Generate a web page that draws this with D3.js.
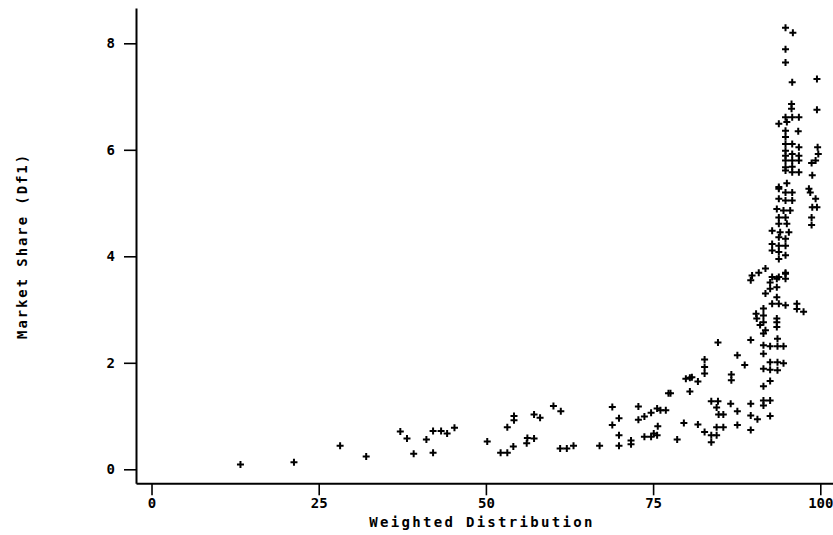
<!DOCTYPE html>
<html>
<head>
<meta charset="utf-8">
<script src="https://cdn.jsdelivr.net/npm/d3@7"></script>
<style>
  html, body { margin: 0; padding: 0; background: #fff; }
  svg { display: block; }
  text { font-family: "DejaVu Sans Mono", "Liberation Mono", monospace; fill: #000; }
</style>
</head>
<body>
<svg id="chart" width="833" height="535"></svg>
<script>
// ---- data ----
const weightedDistribution = [
  13.3, 21.3, 28.2, 32.1, 37.2, 38.2, 39.2, 41.1, 42.1, 42.1, 43.3, 44.2, 45.3,
  50.2, 52.2, 53.2, 53.2, 54.1, 54.2, 54.2, 56.1, 56.2, 57.2, 57.2, 58.1,
  60.1, 61.2, 61.1, 62.1, 63.1, 67.0, 68.9, 68.9, 69.9, 69.9, 69.9, 71.7, 71.7,
  72.8, 72.8, 73.7, 73.7, 74.7, 74.7, 75.6, 75.6, 75.7, 76.1, 76.9, 75.1,
  77.3, 77.6, 78.6, 79.6, 79.9, 80.5, 80.5, 84.7, 89.6, 82.7, 82.7, 82.7,
  80.8, 81.7, 87.6, 88.7, 86.7, 86.7, 91.5, 92.5, 93.6, 94.5, 93.6, 91.5,
  91.5, 92.5, 92.5, 93.6, 93.6, 94.5, 92.5, 91.5, 91.5, 91.5, 83.7, 84.7,
  84.5, 84.8, 85.5, 86.6, 87.6, 89.6, 89.6, 90.6, 91.5, 92.5, 91.5, 92.5,
  81.7, 82.7, 83.7, 83.7, 84.5, 85.5, 87.6, 89.6, 84.5,
  94.8, 95.9, 94.8, 94.8, 95.8, 99.5, 99.5, 95.7, 95.7, 94.8, 95.8, 96.8,
  93.8, 95.0, 94.8, 96.7, 94.8, 94.8, 95.8, 96.8, 94.8, 95.8, 96.8, 94.8,
  94.8, 95.8, 96.8, 94.8, 95.8, 96.8, 94.8, 95.8, 93.8, 95.0, 99.6, 99.7,
  99.3, 98.7, 98.8, 98.3, 93.8, 94.8, 95.8, 93.8, 94.8, 95.8, 98.5, 99.3,
  98.8, 99.5, 98.7, 98.7, 93.5, 94.5, 95.5, 93.8, 94.8, 93.8, 95.0, 92.8,
  94.0, 95.3, 93.8, 94.8, 92.8, 93.8, 94.8, 92.8, 93.8, 94.8, 93.8, 89.8,
  90.8, 91.8, 92.8, 93.8, 94.8, 89.6, 92.5, 93.5, 94.8, 94.8, 92.5, 93.5,
  91.8, 93.5, 92.8, 93.8, 94.8, 96.5, 96.5, 97.5, 91.5, 91.5, 90.5, 91.0,
  93.5, 93.5, 91.8, 90.4, 93.5
];
const marketShare = [
  0.09, 0.13, 0.44, 0.24, 0.71, 0.58, 0.29, 0.56, 0.31, 0.72, 0.72, 0.67, 0.78,
  0.52, 0.31, 0.31, 0.79, 0.43, 1.00, 0.92, 0.49, 0.59, 0.58, 1.03, 0.97,
  1.19, 1.09, 0.39, 0.39, 0.44, 0.44, 1.17, 0.83, 0.96, 0.64, 0.44, 0.54, 0.47,
  1.18, 0.93, 0.99, 0.61, 1.06, 0.61, 1.14, 0.64, 0.81, 1.11, 1.11, 0.67,
  1.43, 1.43, 0.56, 0.87, 1.70, 1.72, 1.46, 2.38, 2.43, 2.06, 1.92, 1.80,
  1.73, 1.65, 2.14, 1.96, 1.78, 1.67, 2.33, 2.31, 2.31, 2.31, 2.45, 2.17,
  1.89, 2.01, 1.87, 2.01, 1.86, 1.99, 1.66, 1.56, 2.55, 2.76, 1.28, 1.28,
  1.16, 1.03, 1.03, 1.23, 1.09, 1.23, 1.01, 0.94, 1.29, 1.29, 1.20, 1.00,
  0.84, 0.70, 0.64, 0.51, 0.79, 0.79, 0.83, 0.74, 0.64,
  8.29, 8.20, 7.89, 7.64, 7.27, 7.33, 6.75, 6.86, 6.77, 6.61, 6.61, 6.61,
  6.49, 6.52, 6.36, 6.35, 6.24, 6.11, 6.11, 6.05, 5.98, 5.92, 5.89, 5.89,
  5.80, 5.80, 5.80, 5.67, 5.68, 5.58, 5.61, 5.58, 5.30, 5.37, 6.05, 5.92,
  5.80, 5.75, 5.52, 5.27, 5.27, 5.20, 5.20, 5.08, 5.05, 5.05, 5.20, 5.08,
  4.92, 4.92, 4.73, 4.59, 4.89, 4.86, 4.86, 4.73, 4.73, 4.61, 4.61, 4.48,
  4.45, 4.45, 4.36, 4.33, 4.23, 4.20, 4.20, 4.11, 4.08, 4.02, 3.95, 3.64,
  3.69, 3.77, 3.61, 3.61, 3.69, 3.55, 3.51, 3.58, 3.67, 3.58, 3.39, 3.42,
  3.30, 3.23, 3.11, 3.11, 3.08, 3.11, 3.01, 2.96, 3.02, 2.89, 2.83, 2.71,
  2.83, 2.67, 2.61, 2.92, 2.76
];
const xTicks = [0, 25, 50, 75, 100];
const yTicks = [0, 2, 4, 6, 8];
const xTitle = "Weighted Distribution";
const yTitle = "Market Share (Df1)";

// ---- drawing ----
const svg = d3.select("#chart");

const x = d3.scaleLinear().domain([-2.32, 101.9]).range([136, 833]);
const y = d3.scaleLinear().domain([-0.263, 8.663]).range([483.3, 8]);

const gx = svg.append("g")
  .attr("transform", `translate(0,${y.range()[0]})`)
  .call(d3.axisBottom(x).tickValues(xTicks).tickSize(12).tickSizeOuter(0).tickPadding(3)
        .tickFormat(d3.format("d")));

const gy = svg.append("g")
  .attr("transform", `translate(${x.range()[0]},0)`)
  .call(d3.axisLeft(y).tickValues(yTicks).tickSize(12).tickSizeOuter(0).tickPadding(9)
        .tickFormat(d3.format("d")));

[gx, gy].forEach(g => {
  g.select(".domain").attr("stroke", "#000").attr("stroke-width", 2);
  g.selectAll(".tick line").attr("stroke", "#000").attr("stroke-width", 1.6);
  g.selectAll(".tick text")
    .attr("fill", "#000")
    .style("font-family", '"DejaVu Sans Mono", monospace')
    .style("font-size", "14px")
    .style("font-weight", "bold");
});

const points = weightedDistribution.map((d, i) => [d, marketShare[i]]);

svg.append("g")
  .selectAll("path")
  .data(points)
  .join("path")
  .attr("transform", d => `translate(${x(d[0])},${y(d[1])})`)
  .attr("d", "M-3.5,0H3.5M0,-3.5V3.5")
  .attr("stroke", "#000")
  .attr("stroke-width", 2)
  .attr("fill", "none");

svg.append("text")
  .attr("x", 482)
  .attr("y", 527)
  .attr("text-anchor", "middle")
  .style("font-size", "14px")
  .style("font-weight", "bold")
  .style("letter-spacing", "2.3px")
  .text(xTitle);

svg.append("text")
  .attr("transform", "translate(27,246) rotate(-90)")
  .attr("text-anchor", "middle")
  .style("font-size", "14px")
  .style("font-weight", "bold")
  .style("letter-spacing", "1.9px")
  .text(yTitle);
</script>
</body>
</html>
